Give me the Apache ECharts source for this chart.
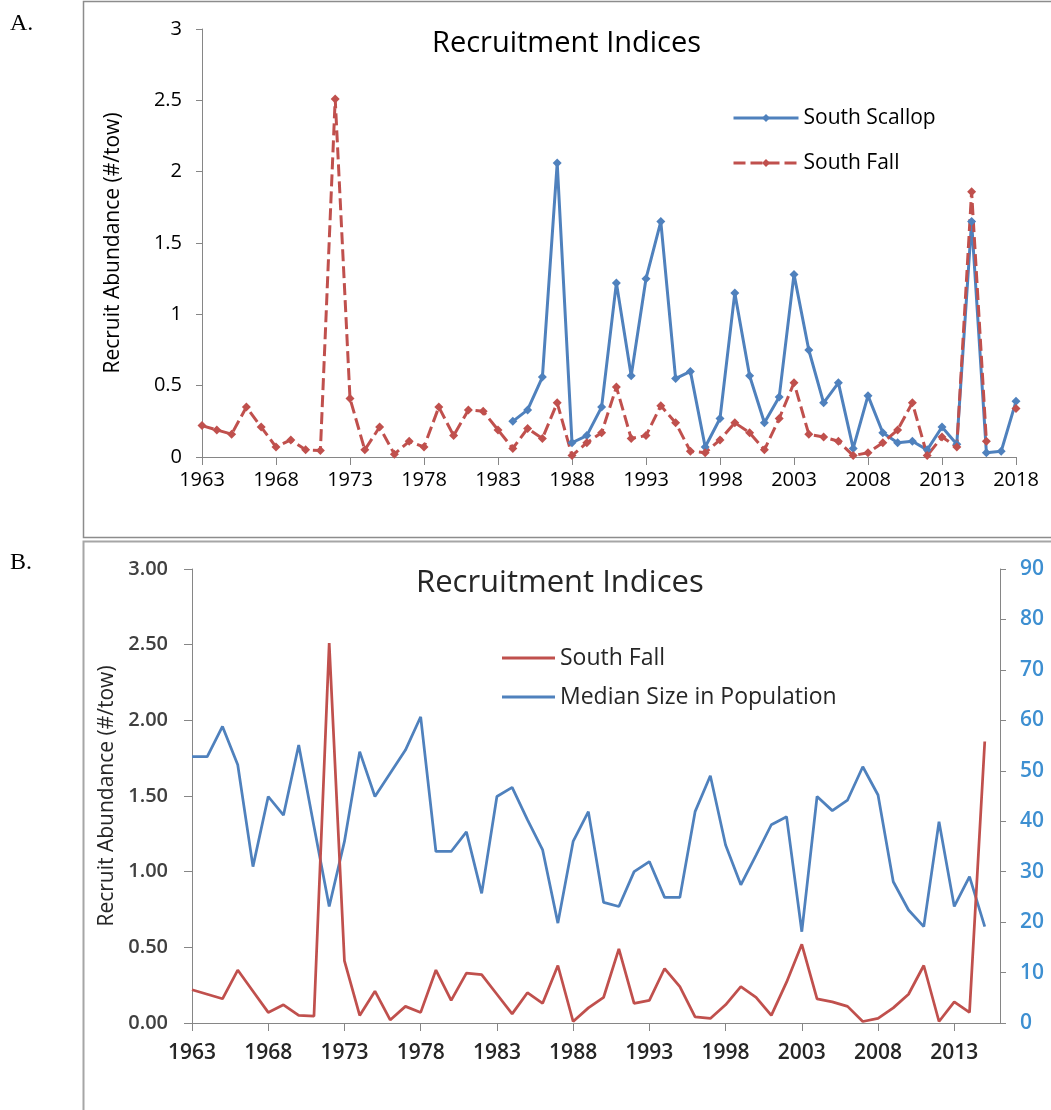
<!DOCTYPE html>
<html>
<head>
<meta charset="utf-8">
<script src="https://cdn.jsdelivr.net/npm/echarts@6/dist/echarts.min.js"></script>
<style>
  html, body { margin: 0; padding: 0; background: #fff; }
  #panelA { position: absolute; left: 0; top: 0; width: 1051px; height: 540px; }
  #panelB { position: absolute; left: 0; top: 540px; width: 1051px; height: 570px; }
</style>
</head>
<body>
<div id="panelA"></div>
<div id="panelB"></div>
<script>
// ---- Panel A: recruitment indices 1963-2018 ----
const yearsA = [
  '1963','1964','1965','1966','1967','1968','1969','1970','1971','1972',
  '1973','1974','1975','1976','1977','1978','1979','1980','1981','1982',
  '1983','1984','1985','1986','1987','1988','1989','1990','1991','1992',
  '1993','1994','1995','1996','1997','1998','1999','2000','2001','2002',
  '2003','2004','2005','2006','2007','2008','2009','2010','2011','2012',
  '2013','2014','2015','2016','2017','2018'
];
const southScallop = [
  null, null, null, null, null, null, null, null, null, null,
  null, null, null, null, null, null, null, null, null, null,
  null, 0.25, 0.33, 0.56, 2.06, 0.10, 0.15, 0.35, 1.22, 0.57,
  1.25, 1.65, 0.55, 0.60, 0.07, 0.27, 1.15, 0.57, 0.24, 0.42,
  1.28, 0.75, 0.38, 0.52, 0.06, 0.43, 0.17, 0.10, 0.11, 0.05,
  0.21, 0.09, 1.65, 0.03, 0.04, 0.39
];
const southFall = [
  0.22, 0.19, 0.16, 0.35, 0.21, 0.07, 0.12, 0.05, 0.045, 2.51,
  0.41, 0.05, 0.21, 0.02, 0.11, 0.07, 0.35, 0.15, 0.33, 0.32,
  0.19, 0.06, 0.20, 0.13, 0.38, 0.01, 0.10, 0.17, 0.49, 0.13,
  0.15, 0.36, 0.24, 0.04, 0.03, 0.12, 0.24, 0.17, 0.05, 0.27,
  0.52, 0.16, 0.14, 0.11, 0.01, 0.03, 0.10, 0.19, 0.38, 0.01,
  0.14, 0.07, 1.86, 0.11, null, 0.34
];

// ---- Panel B: South Fall index with median size, 1963-2015 ----
const yearsB = [
  '1963','1964','1965','1966','1967','1968','1969','1970','1971','1972',
  '1973','1974','1975','1976','1977','1978','1979','1980','1981','1982',
  '1983','1984','1985','1986','1987','1988','1989','1990','1991','1992',
  '1993','1994','1995','1996','1997','1998','1999','2000','2001','2002',
  '2003','2004','2005','2006','2007','2008','2009','2010','2011','2012',
  '2013','2014','2015','2016'
];
const southFallB = [
  0.22, 0.19, 0.16, 0.35, 0.21, 0.07, 0.12, 0.05, 0.045, 2.51,
  0.41, 0.05, 0.21, 0.02, 0.11, 0.07, 0.35, 0.15, 0.33, 0.32,
  0.19, 0.06, 0.20, 0.13, 0.38, 0.01, 0.10, 0.17, 0.49, 0.13,
  0.15, 0.36, 0.24, 0.04, 0.03, 0.12, 0.24, 0.17, 0.05, 0.27,
  0.52, 0.16, 0.14, 0.11, 0.01, 0.03, 0.10, 0.19, 0.38, 0.01,
  0.14, 0.07, 1.86, null
];
const medianSize = [
  52.8, 52.8, 58.8, 51.2, 31.0, 44.9, 41.2, 55.1, 39.0, 23.1,
  36.0, 53.8, 44.9, 49.5, 54.1, 60.7, 34.0, 34.0, 37.9, 25.7,
  44.9, 46.7, 40.3, 34.3, 19.8, 36.0, 41.9, 23.9, 23.1, 30.0,
  32.0, 24.9, 24.9, 41.9, 49.0, 35.3, 27.4, 33.3, 39.3, 40.9,
  18.1, 44.9, 42.1, 44.2, 50.8, 45.2, 28.0, 22.4, 19.1, 39.9,
  23.1, 29.0, 19.1, null
];

const BLUE = '#4f81bd';
const RED = '#c0504d';
const AXIS_GREY = '#868686';
const FONT = '"Open Sans"';

// every fifth year gets a tick and a label
const everyFifth = (index) => index % 5 === 0;

// ---------- Panel A ----------
const chartA = echarts.init(document.getElementById('panelA'));
chartA.setOption({
  animation: false,
  backgroundColor: '#fff',
  title: {
    text: 'Recruitment Indices',
    left: 432, top: 25, padding: 0,
    textStyle: { fontFamily: FONT, fontSize: 29, fontWeight: 'normal', color: '#000', lineHeight: 38 }
  },
  legend: {
    orient: 'vertical',
    left: 732, top: 104, padding: 0,
    itemWidth: 65, itemHeight: 10, itemGap: 17,
    data: ['South Scallop', 'South Fall'],
    lineStyle: { width: 3 },
    textStyle: { fontFamily: FONT, fontSize: 21, color: '#000', lineHeight: 28 }
  },
  grid: { left: 202, top: 29, width: 814, height: 428 },
  xAxis: {
    type: 'category',
    data: yearsA,
    boundaryGap: false,
    axisLine: { lineStyle: { color: AXIS_GREY, width: 1 } },
    axisTick: { interval: everyFifth, length: 8, lineStyle: { color: AXIS_GREY } },
    axisLabel: { interval: everyFifth, margin: 13, fontFamily: FONT, fontSize: 20, color: '#000' },
    splitLine: { show: false }
  },
  yAxis: {
    type: 'value',
    min: 0, max: 3, interval: 0.5,
    name: 'Recruit Abundance (#/tow)',
    nameLocation: 'middle',
    nameGap: 78,
    nameTextStyle: { fontFamily: FONT, fontSize: 21, color: '#000' },
    axisLine: { show: true, lineStyle: { color: AXIS_GREY, width: 1 } },
    axisTick: { show: true, length: 6, lineStyle: { color: AXIS_GREY } },
    axisLabel: { margin: 20, fontFamily: FONT, fontSize: 20, color: '#000' },
    splitLine: { show: false }
  },
  series: [
    {
      name: 'South Scallop',
      type: 'line',
      data: southScallop,
      symbol: 'diamond', symbolSize: 9,
      connectNulls: false,
      lineStyle: { color: BLUE, width: 3 },
      itemStyle: { color: BLUE }
    },
    {
      name: 'South Fall',
      type: 'line',
      data: southFall,
      symbol: 'diamond', symbolSize: 9,
      connectNulls: false,
      lineStyle: { color: RED, width: 3, type: [12, 5] },
      itemStyle: { color: RED }
    }
  ],
  graphic: [
    { type: 'rect', silent: true, shape: { x: 83.5, y: 1.5, width: 1000, height: 536 },
      style: { fill: 'none', stroke: '#8c8c8c', lineWidth: 1.5 } },
    { type: 'text', left: 10, top: 12,
      style: { text: 'A.', font: 'normal 24px "Liberation Serif"', fill: '#000' } }
  ]
});

// ---------- Panel B ----------
const chartB = echarts.init(document.getElementById('panelB'));
chartB.setOption({
  animation: false,
  backgroundColor: '#fff',
  title: {
    text: 'Recruitment Indices',
    left: 416, top: 23, padding: 0,
    textStyle: { fontFamily: FONT, fontSize: 31, fontWeight: 'normal', color: '#262626', lineHeight: 40 }
  },
  legend: {
    orient: 'vertical',
    left: 502, top: 104, padding: 0,
    icon: 'rect',
    itemWidth: 53, itemHeight: 3, itemGap: 11,
    data: ['South Fall', 'Median Size in Population'],
    textStyle: { fontFamily: FONT, fontSize: 23, color: '#262626', lineHeight: 28 }
  },
  grid: { left: 192, top: 29, width: 808, height: 454 },
  xAxis: {
    type: 'category',
    data: yearsB,
    boundaryGap: false,
    axisLine: { lineStyle: { color: AXIS_GREY, width: 1 } },
    axisTick: { interval: everyFifth, length: 8, lineStyle: { color: AXIS_GREY } },
    axisLabel: { interval: everyFifth, margin: 20, fontFamily: FONT, fontSize: 21, fontWeight: 600, color: '#262626' },
    splitLine: { show: false }
  },
  yAxis: [
    {
      type: 'value',
      min: 0, max: 3, interval: 0.5,
      name: 'Recruit Abundance (#/tow)',
      nameLocation: 'middle',
      nameGap: 70,
      nameTextStyle: { fontFamily: FONT, fontSize: 21, color: '#262626' },
      axisLine: { show: true, lineStyle: { color: AXIS_GREY, width: 1 } },
      axisTick: { show: true, length: 8, lineStyle: { color: AXIS_GREY } },
      axisLabel: { margin: 24, fontFamily: FONT, fontSize: 20, fontWeight: 600, color: '#404040',
        formatter: v => v.toFixed(2) },
      splitLine: { show: false }
    },
    {
      type: 'value',
      position: 'right',
      min: 0, max: 90, interval: 10,
      axisLine: { show: true, lineStyle: { color: AXIS_GREY, width: 1 } },
      axisTick: { show: true, length: 6, lineStyle: { color: AXIS_GREY } },
      axisLabel: { margin: 20, fontFamily: FONT, fontSize: 21, fontWeight: 600, color: '#3d8fd1' },
      splitLine: { show: false }
    }
  ],
  series: [
    {
      name: 'South Fall',
      type: 'line',
      data: southFallB,
      yAxisIndex: 0,
      showSymbol: false, symbol: 'none',
      lineStyle: { color: RED, width: 2.75 },
      itemStyle: { color: RED },
      z: 3
    },
    {
      name: 'Median Size in Population',
      type: 'line',
      data: medianSize,
      yAxisIndex: 1,
      showSymbol: false, symbol: 'none',
      lineStyle: { color: BLUE, width: 2.75 },
      itemStyle: { color: BLUE },
      z: 2
    }
  ],
  graphic: [
    { type: 'rect', silent: true, shape: { x: 83.5, y: 1.5, width: 1000, height: 600 },
      style: { fill: 'none', stroke: '#a6a6a6', lineWidth: 2 } },
    { type: 'text', left: 10, top: 11,
      style: { text: 'B.', font: 'normal 24px "Liberation Serif"', fill: '#000' } }
  ]
});
</script>
</body>
</html>
